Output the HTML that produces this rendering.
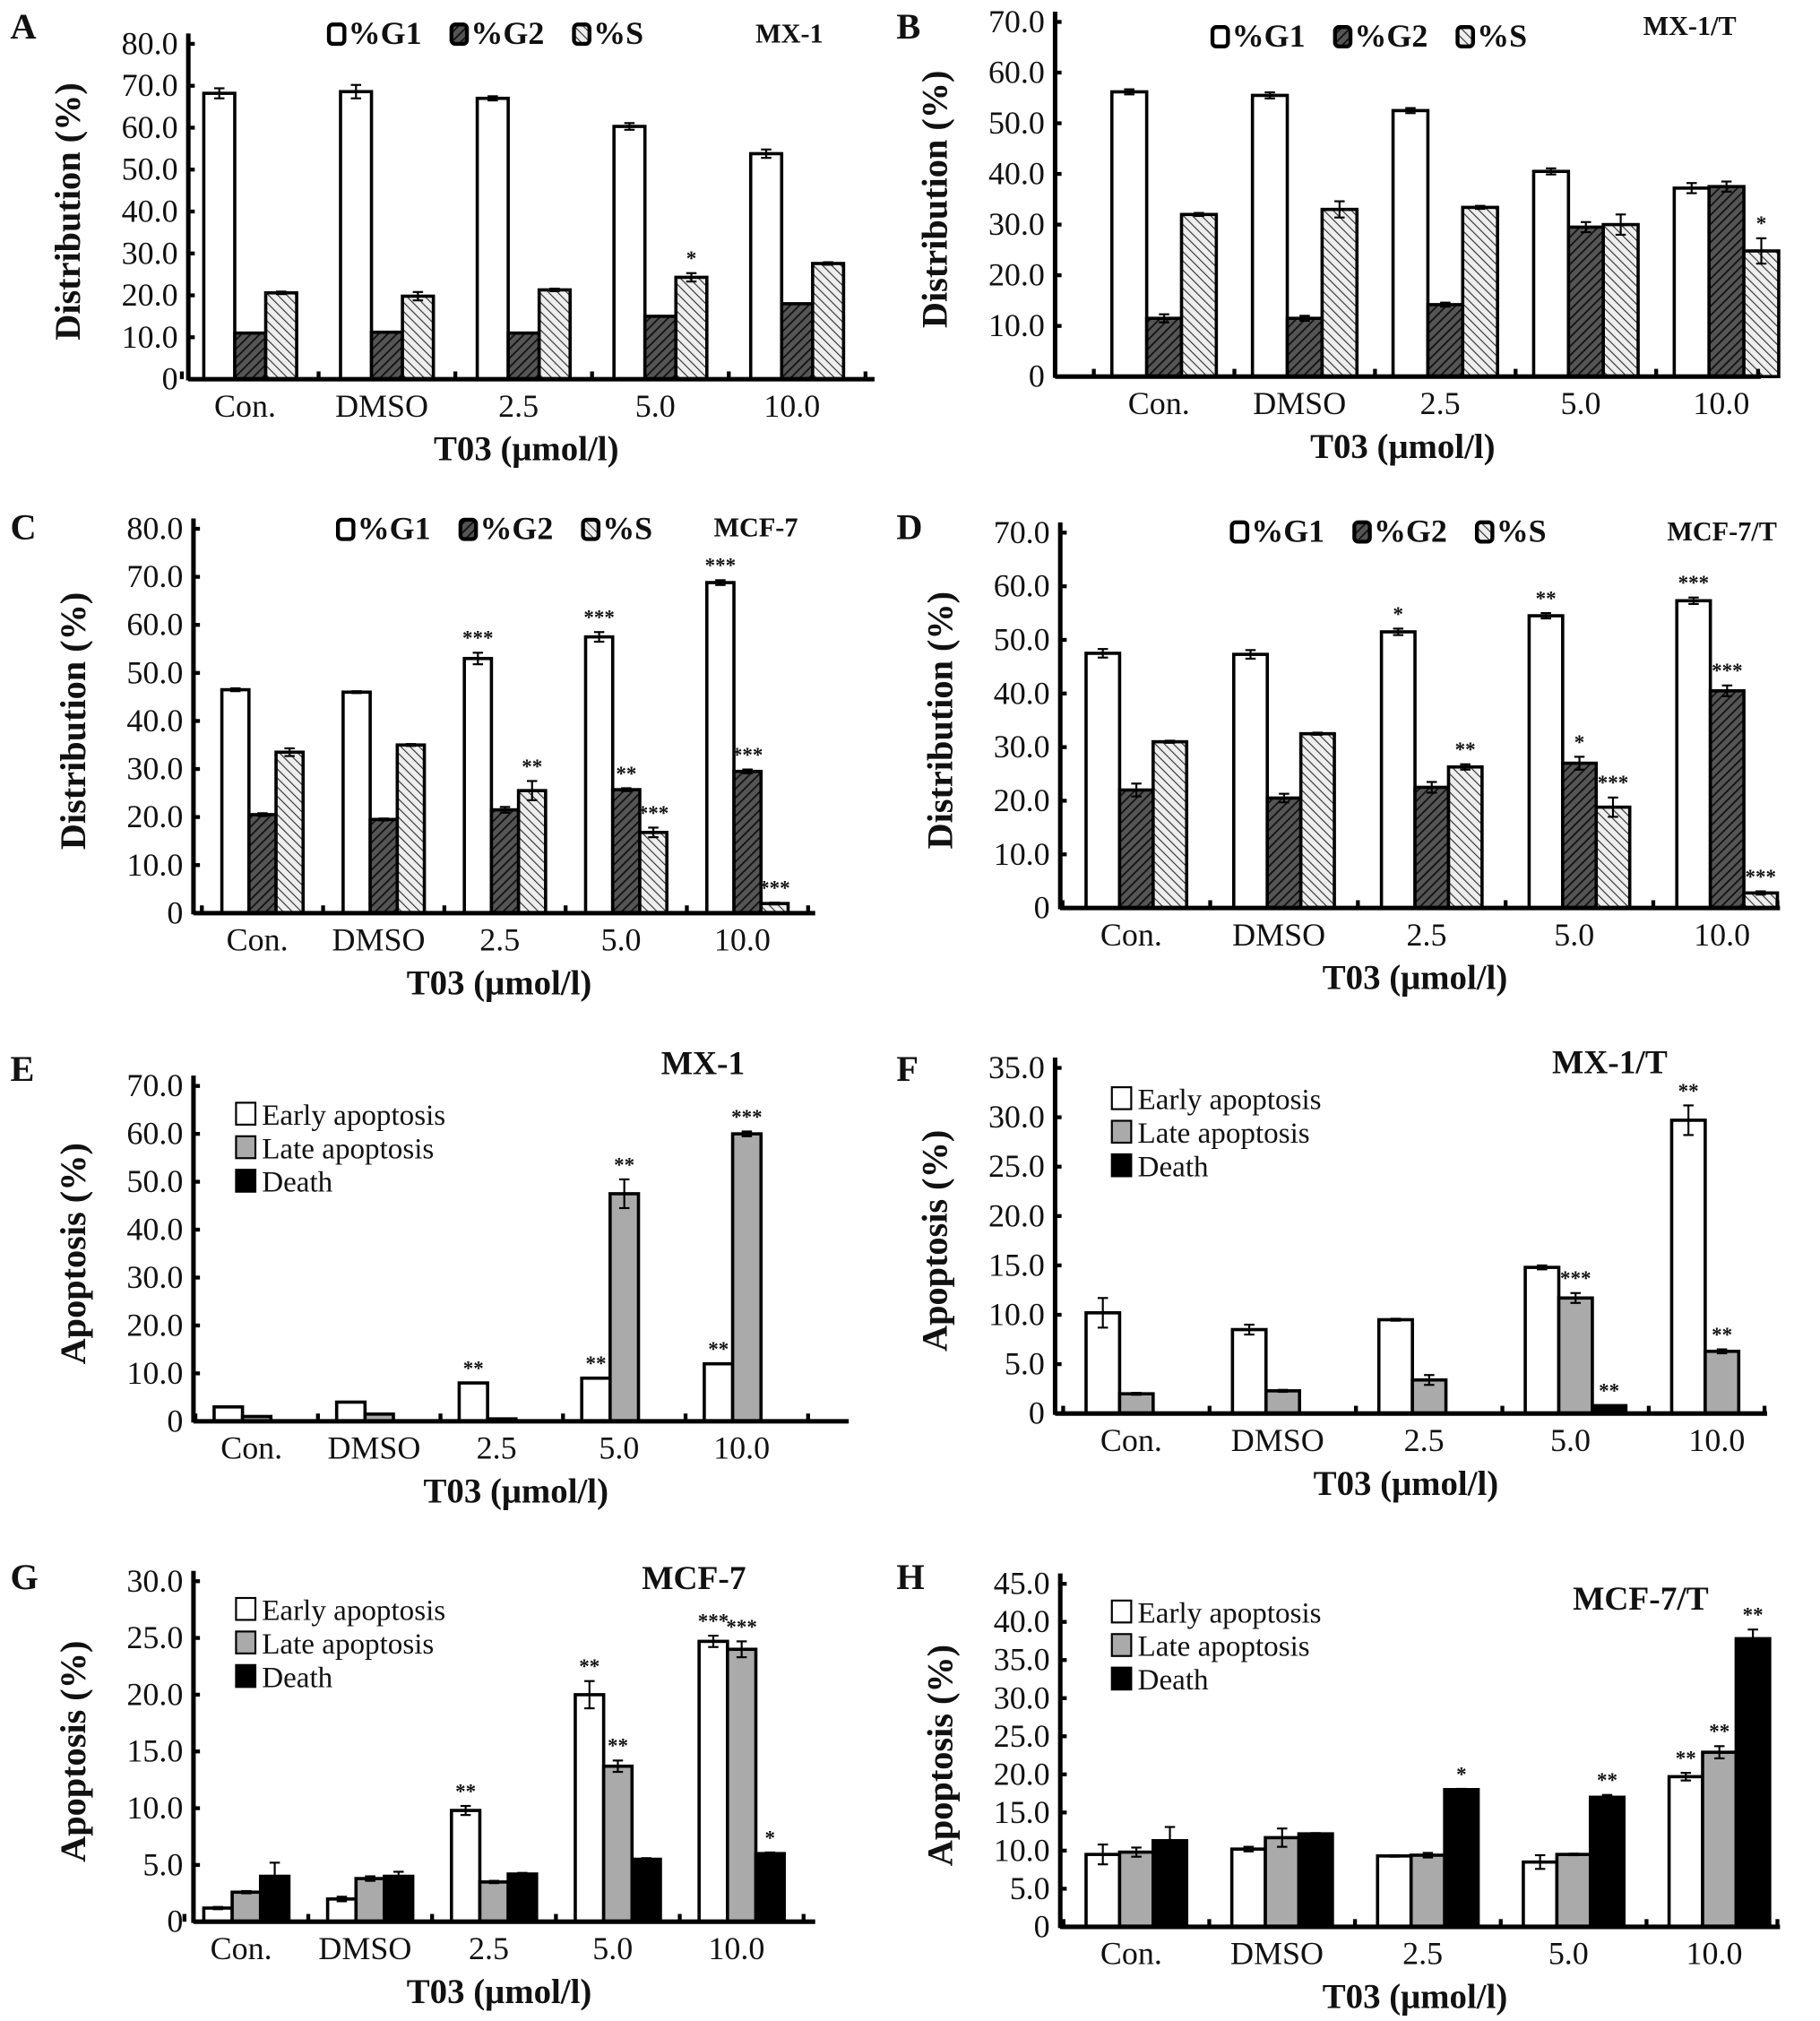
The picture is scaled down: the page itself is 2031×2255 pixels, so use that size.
<!DOCTYPE html>
<html><head><meta charset="utf-8"><style>
html,body{margin:0;padding:0;background:#fff;}
svg{display:block;}
text{font-family:"Liberation Serif",serif;fill:#111;}
</style></head><body>
<svg id="fig" width="2031" height="2255" viewBox="0 0 1411 1567" preserveAspectRatio="none" xmlns="http://www.w3.org/2000/svg">
<defs>
<pattern id="hatchDark" patternUnits="userSpaceOnUse" width="5" height="5" patternTransform="rotate(45)">
<rect width="5" height="5" fill="#555"/><line x1="0" y1="0" x2="0" y2="5" stroke="#111" stroke-width="2.5"/>
</pattern>
<pattern id="hatchLight" patternUnits="userSpaceOnUse" width="5" height="5" patternTransform="rotate(-45)">
<rect width="5" height="5" fill="#eee"/><line x1="0" y1="0" x2="0" y2="5" stroke="#333" stroke-width="1.6"/>
</pattern>
</defs>
</svg>
<script>
// ---- data ----
const categories = ["Con.","DMSO","2.5","5.0","10.0"];
// Panel A (MX-1 cycle)
const aG1 = [68.2,68.6,67.0,60.3,53.8];
const aG2 = [11.0,11.2,11.0,15.0,18.0];
const aS  = [20.6,19.8,21.3,24.3,27.6];
const aErrG1 = [1.2,1.6,0.5,0.8,1.0];
const aErrS  = [0.3,1.0,0.3,1.0,0.3];
// Panel B (MX-1/T cycle)
const bG1 = [56.2,55.5,52.5,40.5,37.2];
const bG2 = [11.5,11.5,14.2,29.5,37.5];
const bS  = [32.0,33.0,33.4,30.0,24.8];
const bErrG1 = [0.5,0.6,0.5,0.6,1.0];
const bErrG2 = [0.8,0.5,0.4,1.0,1.0];
const bErrS  = [0.3,1.6,0.3,2.0,2.5];
// Panel C (MCF-7 cycle)
const cG1 = [46.5,46.0,53.0,57.5,68.8];
const cG2 = [20.5,19.5,21.5,25.7,29.5];
const cS  = [33.5,35.0,25.5,16.8,2.0];
const cErrG1 = [0.3,0.2,1.2,1.0,0.5];
const cErrG2 = [0.3,0.2,0.6,0.3,0.4];
const cErrS  = [0.8,0.2,2.0,1.0,0.2];
// Panel D (MCF-7/T cycle)
const dG1 = [47.5,47.3,51.5,54.5,57.3];
const dG2 = [22.0,20.5,22.5,27.0,40.5];
const dS  = [31.0,32.5,26.3,18.8,2.8];
const dErrG1 = [0.8,0.8,0.6,0.5,0.6];
const dErrG2 = [1.2,0.8,1.0,1.2,1.0];
const dErrS  = [0.2,0.2,0.5,1.8,0.3];
// Panel E (MX-1 apoptosis)
const eEarly = [3.0,4.0,8.0,9.0,12.0];
const eLate  = [1.0,1.5,0.5,47.5,60.0];
const eDeath = [0,0,0,0,0];
const eErrLate = [0,0,0,3.0,0.5];
// Panel F (MX-1/T apoptosis)
const fEarly = [10.2,8.5,9.5,14.8,29.7];
const fLate  = [2.0,2.3,3.4,11.7,6.3];
const fDeath = [0,0,0,0.8,0];
const fErrEarly = [1.5,0.5,0.1,0.2,1.5];
const fErrLate  = [0.1,0.1,0.5,0.5,0.2];
// Panel G (MCF-7 apoptosis)
const gEarly = [1.2,2.0,9.8,20.0,24.7];
const gLate  = [2.6,3.8,3.5,13.7,24.0];
const gDeath = [4.0,4.0,4.2,5.5,6.0];
const gErrEarly = [0.1,0.2,0.4,1.2,0.5];
const gErrLate  = [0.1,0.2,0.1,0.5,0.7];
const gErrDeath = [1.2,0.4,0.1,0.1,0.1];
// Panel H (MCF-7/T apoptosis)
const hEarly = [9.5,10.2,9.3,8.5,19.7];
const hLate  = [9.8,11.7,9.4,9.5,22.9];
const hDeath = [11.3,12.2,18.0,17.0,37.8];
const hErrEarly = [1.3,0.3,0.1,0.9,0.5];
const hErrLate  = [0.6,1.2,0.3,0.1,0.8];
const hErrDeath = [1.8,0.1,0.1,0.3,1.2];

const NS="http://www.w3.org/2000/svg";
const svg=document.getElementById('fig');
function mk(tag,attrs,parent,txt){const e=document.createElementNS(NS,tag);for(const k in attrs)e.setAttribute(k,attrs[k]);if(txt!==undefined)e.textContent=txt;(parent||svg).appendChild(e);return e;}

function panel(cfg){
  const g=mk('g',{});
  
  
  const yS=v=>cfg.y0-(v/cfg.max)*(cfg.y0-cfg.yTop);
  const L=mk('text',{x:cfg.letterX,y:cfg.letterY,'font-size':28,'font-weight':'bold'},g,cfg.id.toUpperCase());
  
  
  for(let v=0;v<=cfg.max+1e-9;v+=cfg.step){
    const y=yS(v);
    const t=mk('text',{x:cfg.x0-8,y:y+8,'font-size':25,'text-anchor':'end'},g,v===0?'0':v.toFixed(1));
    
    
    mk('line',{x1:cfg.x0,x2:cfg.x0+5,y1:y,y2:y,stroke:'#000','stroke-width':3},g);
  }
  cfg.series.forEach((s,si)=>{
    s.vals.forEach((v,ci)=>{
      const x=cfg.gStart+ci*cfg.gap+si*cfg.bw;
      const r=mk('rect',{x:x,y:yS(v),width:cfg.bw,height:cfg.y0-yS(v),fill:s.fill,stroke:'#000','stroke-width':2.5},g);
      
      
      const e=s.err?s.err[ci]:0;
      const cx=x+cfg.bw/2;
      if(e>0){
        mk('line',{x1:cx,x2:cx,y1:yS(v+e),y2:yS(v-e),stroke:'#000','stroke-width':1.5},g);
        mk('line',{x1:cx-4,x2:cx+4,y1:yS(v+e),y2:yS(v+e),stroke:'#000','stroke-width':1.5},g);
        mk('line',{x1:cx-4,x2:cx+4,y1:yS(v-e),y2:yS(v-e),stroke:'#000','stroke-width':1.5},g);
      }
      const st=s.stars?s.stars[ci]:'';
      if(st){
        const t=mk('text',{x:cx,y:yS(v+e)-6,'font-size':16,'font-weight':'bold','text-anchor':'middle'},g,st);
        
        
      }
    });
  });
  mk('line',{x1:cfg.x0,x2:cfg.x0,y1:cfg.yTop-8,y2:cfg.y0+1,stroke:'#000','stroke-width':3.5},g);
  mk('line',{x1:cfg.x0,x2:cfg.x1,y1:cfg.y0,y2:cfg.y0,stroke:'#000','stroke-width':3.5},g);
  for(let i=0;i<=5;i++){let x=cfg.gStart-(cfg.gap-3*cfg.bw)/2+i*cfg.gap;if(x>cfg.x1-2)x=cfg.x1-2;mk('line',{x1:x,x2:x,y1:cfg.y0,y2:cfg.y0-6,stroke:'#000','stroke-width':3},g);}
  categories.forEach((c,ci)=>{
    const t=mk('text',{x:cfg.gStart+ci*cfg.gap+1.5*cfg.bw-4,y:cfg.y0+29,'font-size':25,'text-anchor':'middle'},g,c);
    
    
  });
  const xt=mk('text',{x:(cfg.x0+cfg.x1)/2-4,y:cfg.y0+63,'font-size':27,'font-weight':'bold','text-anchor':'middle'},g,'T03 (μmol/l)');
  
  
  const yc=(cfg.y0+cfg.yTop)/2;
  const yt=mk('text',{x:0,y:0,'font-size':28,'font-weight':'bold','text-anchor':'middle',transform:`translate(${cfg.x0-84},${yc}) rotate(-90)`},g,cfg.ylabel);
  
  
  const tl=mk('text',{x:cfg.titleX,y:cfg.titleY,'font-size':cfg.cycle?21:26,'font-weight':'bold','text-anchor':'middle'},g,cfg.title);
  
  
  if(cfg.cycle){
    cfg.series.forEach((s,si)=>{
      const lx=cfg.legX+si*95;
      const r=mk('rect',{x:lx,y:cfg.legY-15,width:12,height:15,rx:3,fill:s.fill,stroke:'#000','stroke-width':3},g);
      
      
      const t=mk('text',{x:lx+15,y:cfg.legY,'font-size':25,'font-weight':'bold'},g,s.label);
      
      
    });
  } else {
    cfg.series.forEach((s,si)=>{
      const ly=cfg.legY+si*26;
      const r=mk('rect',{x:cfg.legX,y:ly-17,width:15,height:17,fill:s.fill,stroke:'#000','stroke-width':1.5},g);
      
      
      const t=mk('text',{x:cfg.legX+20,y:ly,'font-size':23},g,s.label);
      
      
    });
  }
}
function cyc(g1,g2,s,e1,e2,es,st1,st2,sts){return [
 {name:'g1',label:'%G1',fill:'#fff',vals:g1,err:e1,stars:st1},
 {name:'g2',label:'%G2',fill:'url(#hatchDark)',vals:g2,err:e2,stars:st2},
 {name:'s',label:'%S',fill:'url(#hatchLight)',vals:s,err:es,stars:sts}];}
function apo(a,b,c,ea,eb,ec,sa,sb,sc){return [
 {name:'early',label:'Early apoptosis',fill:'#fff',vals:a,err:ea,stars:sa},
 {name:'late',label:'Late apoptosis',fill:'#aaa',vals:b,err:eb,stars:sb},
 {name:'death',label:'Death',fill:'#000',vals:c,err:ec,stars:sc}];}
panel({id:'a',cycle:true,x0:146,x1:678,y0:294,yTop:34,max:80,step:10,gStart:158,gap:106,bw:24,letterX:8,letterY:30,
  ylabel:'Distribution (%)',title:'MX-1',titleX:612,titleY:33,legX:255,legY:34,
  series:cyc(aG1,aG2,aS,aErrG1,null,aErrS,null,null,['','','','*',''])});
panel({id:'b',cycle:true,x0:818,x1:1365,y0:292,yTop:17,max:70,step:10,gStart:862,gap:109,bw:27,letterX:695,letterY:30,
  ylabel:'Distribution (%)',title:'MX-1/T',titleX:1310,titleY:27,legX:940,legY:36,
  series:cyc(bG1,bG2,bS,bErrG1,bErrG2,bErrS,null,null,['','','','','*'])});
panel({id:'c',cycle:true,x0:150,x1:632,y0:708,yTop:410,max:80,step:10,gStart:172,gap:94,bw:21,letterX:8,letterY:418,
  ylabel:'Distribution (%)',title:'MCF-7',titleX:586,titleY:416,legX:262,legY:418,
  series:cyc(cG1,cG2,cS,cErrG1,cErrG2,cErrS,['','','***','***','***'],['','','','**','***'],['','','**','***','***'])});
panel({id:'d',cycle:true,x0:822,x1:1380,y0:704,yTop:413,max:70,step:10,gStart:842,gap:114.5,bw:26,letterX:695,letterY:418,
  ylabel:'Distribution (%)',title:'MCF-7/T',titleX:1335,titleY:419,legX:955,legY:420,
  series:cyc(dG1,dG2,dS,dErrG1,dErrG2,dErrS,['','','*','**','***'],['','','','*','***'],['','','**','***','***'])});
panel({id:'e',cycle:false,x0:150,x1:658,y0:1102,yTop:842,max:70,step:10,gStart:166,gap:95,bw:22,letterX:8,letterY:838,
  ylabel:'Apoptosis (%)',title:'MX-1',titleX:545,titleY:833,legX:183,legY:872,
  series:apo(eEarly,eLate,eDeath,null,eErrLate,null,['','','**','**','**'],['','','','**','***'],null)});
panel({id:'f',cycle:false,x0:818,x1:1370,y0:1096,yTop:828,max:35,step:5,gStart:842,gap:113.5,bw:26,letterX:695,letterY:838,
  ylabel:'Apoptosis (%)',title:'MX-1/T',titleX:1248,titleY:832,legX:862,legY:860,
  series:apo(fEarly,fLate,fDeath,fErrEarly,fErrLate,null,['','','','','**'],['','','','***','**'],['','','','**',''])});
panel({id:'g',cycle:false,x0:150,x1:632,y0:1490,yTop:1226,max:30,step:5,gStart:158,gap:96,bw:22,letterX:8,letterY:1232,
  ylabel:'Apoptosis (%)',title:'MCF-7',titleX:538,titleY:1232,legX:183,legY:1256,
  series:apo(gEarly,gLate,gDeath,gErrEarly,gErrLate,gErrDeath,['','','**','**','***'],['','','','**','***'],['','','','','*'])});
panel({id:'h',cycle:false,x0:822,x1:1380,y0:1494,yTop:1228,max:45,step:5,gStart:842,gap:113,bw:26,letterX:695,letterY:1232,
  ylabel:'Apoptosis (%)',title:'MCF-7/T',titleX:1272,titleY:1248,legX:862,legY:1258,
  series:apo(hEarly,hLate,hDeath,hErrEarly,hErrLate,hErrDeath,['','','','','**'],['','','','','**'],['','','*','**','**'])});
</script>
</body></html>
